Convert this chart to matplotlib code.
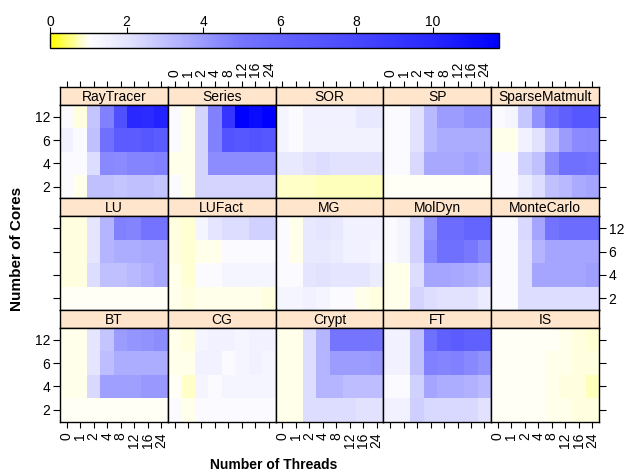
import numpy as np
import matplotlib
matplotlib.use('Agg')
import matplotlib.pyplot as plt
from matplotlib.colors import LinearSegmentedColormap, Normalize
from matplotlib.cm import ScalarMappable

plt.rcParams['font.family'] = ['Liberation Sans', 'DejaVu Sans']

threads = ['0', '1', '2', '4', '8', '12', '16', '24']
cores = ['2', '4', '6', '12']

# speedup per panel, rows = cores 2, 4, 6, 12 ; columns = threads
raytracer = [[1.2, 0.93, 3.0, 3.0, 2.9, 3.0, 3.0, 2.9],
             [1.2, 1.2, 2.2, 4.45, 4.4, 4.6, 4.6, 4.7],
             [1.55, 1.2, 3.0, 5.3, 6.6, 6.6, 6.9, 6.6],
             [1.2, 0.9, 2.9, 4.7, 7.4, 10.0, 9.8, 10.2]]
series = [[1.2, 0.94, 2.45, 2.45, 2.45, 2.45, 2.45, 2.45],
          [0.96, 0.94, 2.45, 4.35, 4.35, 4.35, 4.35, 4.35],
          [1.2, 0.94, 2.45, 4.7, 7.2, 6.9, 7.2, 6.9],
          [1.2, 0.94, 2.45, 4.7, 9.2, 11.7, 11.3, 11.7]]
sor = [[0.78, 0.78, 0.78, 0.77, 0.77, 0.76, 0.76, 0.75],
       [1.85, 1.85, 2.1, 2.2, 2.1, 2.1, 2.1, 2.1],
       [1.4, 1.2, 1.5, 1.5, 1.5, 1.5, 1.5, 1.5],
       [1.4, 1.2, 1.55, 1.55, 1.55, 1.55, 1.85, 1.85]]
sp = [[1.0, 1.0, 1.0, 1.0, 1.0, 1.0, 1.0, 1.0],
      [1.2, 1.2, 2.3, 3.65, 3.65, 3.65, 3.8, 3.65],
      [1.2, 1.2, 2.1, 3.2, 3.55, 3.55, 3.55, 3.55],
      [1.2, 1.2, 2.1, 3.2, 3.95, 3.95, 4.25, 4.25]]
sparsematmult = [[1.2, 1.2, 1.7, 2.2, 3.0, 3.2, 3.6, 3.75],
                 [1.2, 1.2, 2.55, 3.0, 4.4, 5.3, 5.3, 5.1],
                 [0.96, 0.96, 1.55, 2.1, 3.1, 3.95, 4.4, 4.45],
                 [1.2, 1.4, 2.8, 4.25, 5.5, 6.3, 6.9, 6.9]]
lu = [[1.0, 1.0, 1.0, 1.0, 1.0, 1.0, 1.0, 1.0],
      [0.88, 0.88, 2.2, 3.0, 3.0, 3.2, 3.4, 3.65],
      [0.88, 0.88, 2.0, 3.3, 3.5, 3.5, 3.65, 3.65],
      [0.88, 0.88, 2.0, 3.3, 4.7, 4.6, 5.1, 5.1]]
lufact = [[0.94, 0.91, 0.96, 0.96, 0.94, 0.94, 0.94, 0.91],
          [0.94, 0.85, 1.2, 1.2, 1.4, 1.4, 1.4, 1.4],
          [0.9, 0.83, 0.96, 0.96, 1.2, 1.2, 1.2, 1.2],
          [0.9, 0.85, 1.4, 2.0, 2.2, 2.2, 2.55, 2.55]]
mg = [[1.4, 1.4, 1.55, 1.4, 1.2, 1.2, 0.96, 0.88],
      [1.2, 1.2, 2.0, 2.1, 2.0, 2.0, 2.0, 1.7],
      [1.2, 0.96, 1.85, 1.85, 1.7, 1.55, 1.55, 1.4],
      [1.2, 0.96, 1.85, 2.0, 1.85, 1.55, 1.55, 1.55]]
moldyn = [[0.96, 0.96, 2.45, 2.2, 2.1, 2.1, 2.1, 1.7],
          [0.94, 0.94, 2.2, 3.75, 3.75, 3.65, 3.5, 3.3],
          [1.2, 1.4, 2.55, 4.45, 5.3, 5.3, 4.9, 4.45],
          [1.2, 1.4, 2.55, 4.25, 5.5, 5.5, 6.0, 6.0]]
montecarlo = [[1.2, 1.2, 2.2, 2.2, 2.2, 2.2, 2.2, 2.2],
              [1.2, 1.2, 2.2, 3.75, 3.75, 3.75, 3.75, 3.85],
              [1.2, 1.2, 2.2, 3.3, 3.75, 3.75, 3.75, 3.75],
              [1.2, 1.2, 2.3, 3.75, 5.1, 5.5, 5.5, 5.5]]
bt = [[1.0, 1.0, 1.0, 1.0, 1.0, 1.0, 1.0, 1.0],
      [0.94, 0.94, 2.3, 3.85, 3.85, 3.85, 4.05, 4.05],
      [0.94, 0.94, 2.0, 3.1, 3.5, 3.5, 3.5, 3.5],
      [0.93, 0.93, 2.0, 2.9, 3.95, 4.15, 4.25, 4.35]]
cg = [[1.2, 0.94, 1.2, 1.2, 1.2, 1.2, 1.2, 1.2],
      [0.97, 0.82, 1.4, 1.2, 1.4, 1.4, 1.4, 1.4],
      [0.94, 0.93, 1.55, 1.55, 1.2, 1.4, 1.55, 1.4],
      [0.96, 0.91, 1.4, 1.55, 1.55, 1.4, 1.55, 1.55]]
crypt = [[0.94, 0.94, 2.2, 2.2, 2.2, 2.2, 2.1, 2.1],
         [0.96, 0.96, 2.2, 3.3, 3.3, 3.1, 3.1, 3.1],
         [0.93, 0.93, 2.2, 3.3, 3.95, 3.95, 3.95, 4.05],
         [0.93, 0.93, 2.2, 3.3, 5.05, 5.05, 5.05, 5.05]]
ft = [[1.55, 1.55, 2.65, 2.3, 2.3, 2.3, 2.3, 2.1],
      [1.2, 1.2, 2.55, 3.75, 3.5, 3.5, 3.4, 3.2],
      [1.55, 1.55, 3.0, 4.7, 4.6, 4.7, 4.45, 4.25],
      [1.55, 1.55, 3.0, 5.3, 6.3, 6.6, 6.3, 6.3]]
is_ = [[0.97, 0.97, 0.97, 0.97, 0.96, 0.94, 0.91, 0.9],
       [0.97, 0.97, 0.97, 0.97, 0.94, 0.91, 0.88, 0.75],
       [0.97, 0.97, 0.97, 0.97, 0.96, 0.94, 0.91, 0.88],
       [0.97, 0.97, 0.97, 0.97, 0.97, 0.94, 0.9, 0.85]]

# panel order: top row first
names = ['RayTracer', 'Series', 'SOR', 'SP', 'SparseMatmult',
         'LU', 'LUFact', 'MG', 'MolDyn', 'MonteCarlo',
         'BT', 'CG', 'Crypt', 'FT', 'IS']
panels = [raytracer, series, sor, sp, sparsematmult,
          lu, lufact, mg, moldyn, montecarlo,
          bt, cg, crypt, ft, is_]

vmax = 11.72
nodes = [(0, '#ffff00'), (1, '#ffffff'), (2, '#e4e4ff'), (3, '#c0c0ff'),
         (4, '#9a9aff'), (5, '#7575ff'), (6, '#6464ff'), (8, '#4848ff'),
         (10, '#2828ff'), (vmax, '#0000ff')]
cmap = LinearSegmentedColormap.from_list('ywb', [(v / vmax, c) for v, c in nodes])
norm = Normalize(0, vmax)

W, H = 627, 473
fig = plt.figure(figsize=(W / 100, H / 100), dpi=100)

def box(x, y, w, h):
    return [x / W, 1 - (y + h) / H, w / W, h / H]

left, right = 60, 599
pw = (right - left) / 5
top0, pitch, sh, ph = 87, 111.5, 18, 93.5

for i, (name, vals) in enumerate(zip(names, panels)):
    r, c = divmod(i, 5)
    x0 = left + c * pw
    y0 = top0 + r * pitch
    sax = fig.add_axes(box(x0, y0, pw, sh))
    ax = fig.add_axes(box(x0, y0 + sh, pw, ph))

    ax.pcolormesh(np.arange(9) - 0.5, np.arange(5) - 0.5, np.array(vals),
                  cmap=cmap, norm=norm)
    ax.set_xlim(-0.5, 7.5)
    ax.set_ylim(-0.5, 3.5)
    ax.set_xticks(range(8))
    ax.set_yticks(range(4))
    ax.set_xticklabels(threads, rotation=90, fontsize=10)
    ax.set_yticklabels(cores, fontsize=10)
    ax.tick_params(axis='y', length=5, width=0.8, pad=2,
                   left=(c == 0), labelleft=(c == 0 and r != 1),
                   right=(c == 4), labelright=(c == 4 and r == 1))
    ax.tick_params(axis='x', length=4, width=0.8, pad=4,
                   bottom=(r == 2), labelbottom=(r == 2 and c % 2 == 0),
                   top=False, labeltop=False)

    sax.set_facecolor('#ffe5cc')
    sax.set_xlim(-0.5, 7.5)
    sax.set_ylim(0, 1)
    sax.set_yticks([])
    sax.set_xticks(range(8))
    sax.set_xticklabels(threads, rotation=90, fontsize=10)
    sax.tick_params(length=4, width=0.8, pad=3, bottom=False, labelbottom=False,
                    top=(r == 0), labeltop=(r == 0 and c % 2 == 1))
    sax.text(3.5, 0.45, name, ha='center', va='center', fontsize=10)
    for a in (ax, sax):
        for s in a.spines.values():
            s.set_linewidth(1)
            s.set_color('black')

# colour key on top
cax = fig.add_axes(box(50, 33, 449, 15))
cb = fig.colorbar(ScalarMappable(norm=norm, cmap=cmap), cax=cax,
                  orientation='horizontal', ticks=[0, 2, 4, 6, 8, 10])
cb.outline.set_linewidth(1)
cax.xaxis.set_ticks_position('top')
cax.tick_params(length=4, width=0.8, labelsize=10, pad=-1)

fig.text(17 / W, 1 - 249 / H, 'Number of Cores', rotation=90, ha='center',
         va='center', fontsize=11, fontweight='bold')
fig.text(274 / W, 1 - 465 / H, 'Number of Threads', ha='center', va='center',
         fontsize=10, fontweight='bold')

fig.savefig('out.png', dpi=100)
